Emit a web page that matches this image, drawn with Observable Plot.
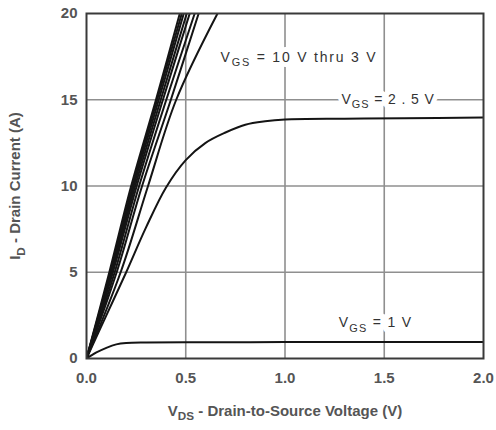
<!DOCTYPE html>
<html><head><meta charset="utf-8">
<script src="https://cdn.jsdelivr.net/npm/d3@7"></script>
<script src="https://cdn.jsdelivr.net/npm/@observablehq/plot@0.6"></script>
<style>body{margin:0;background:#fff} svg{display:block}</style>
</head><body><div id="chart"></div>
<script>
// Linear-region curves: VDS read at each drain current step
const vgsLinear = ["10 V", "8 V", "6 V", "5 V", "4.5 V", "4 V", "3.5 V", "3 V"];
const idSteps = [0, 5, 10, 15, 20];
const vdsAtId = [
  [0, 0.115, 0.225, 0.350, 0.470],
  [0, 0.120, 0.232, 0.356, 0.480],
  [0, 0.124, 0.238, 0.364, 0.490],
  [0, 0.128, 0.245, 0.374, 0.505],
  [0, 0.133, 0.253, 0.385, 0.520],
  [0, 0.142, 0.265, 0.402, 0.545],
  [0, 0.152, 0.280, 0.425, 0.565],
  [0, 0.172, 0.310, 0.452, 0.660]
];
// VGS = 2.5 V
const vds25 = [0, 0.1, 0.2, 0.3, 0.4, 0.5, 0.6, 0.7, 0.8, 0.9, 1.0, 1.3, 1.6, 2.0];
const id25  = [0, 2.5, 5.0, 7.6, 9.9, 11.5, 12.5, 13.1, 13.55, 13.75, 13.85, 13.9, 13.93, 13.97];
// VGS = 1 V
const vds1 = [0, 0.05, 0.1, 0.15, 0.2, 0.3, 0.5, 1.0, 1.5, 2.0];
const id1  = [0, 0.35, 0.62, 0.82, 0.9, 0.93, 0.94, 0.95, 0.95, 0.96];

const xTicks = [0, 0.5, 1.0, 1.5, 2.0];
const yTicks = [0, 5, 10, 15, 20];
const labelTexts = ["V_{GS} = 10 V thru 3 V", "V_{GS} = 2 . 5 V", "V_{GS} = 1 V"];
const xTitle = "V_{DS} - Drain-to-Source Voltage (V)";
const yTitle = "I_{D} - Drain Current (A)";

const rows = [];
vgsLinear.forEach((g, k) => idSteps.forEach((id, j) => rows.push({vgs: g, vds: vdsAtId[k][j], id})));
vds25.forEach((v, i) => rows.push({vgs: "2.5 V", vds: v, id: id25[i]}));
vds1.forEach((v, i) => rows.push({vgs: "1 V", vds: v, id: id1[i]}));

const font = "Liberation Sans, Arial, Helvetica, sans-serif";
const spacing = {[labelTexts[0]]: "1.8px", [labelTexts[1]]: "0.9px", [labelTexts[2]]: "1.3px"};
const labelPos = [
  {x: 0.675, y: 17.45, textAnchor: "start"},
  {x: 1.52, y: 15, textAnchor: "middle"},
  {x: 1.456, y: 2.06, textAnchor: "middle"}
];
const labelMarks = [];
labelTexts.forEach((t, i) => {
  labelMarks.push(Plot.text([t], {...labelPos[i], text: d => d, fontSize: 14, fill: "white", stroke: "white", strokeWidth: i === 2 ? 12 : 10}));
});
labelTexts.forEach((t, i) => {
  labelMarks.push(Plot.text([t], {...labelPos[i], text: d => d, fontSize: 14, fill: "#333"}));
});

const chart = Plot.plot({
  width: 496, height: 430,
  marginLeft: 86, marginRight: 13, marginTop: 13, marginBottom: 72,
  style: {fontFamily: font, fontSize: "13px", color: "#444", background: "#fff"},
  x: {domain: [0, 2], label: null},
  y: {domain: [0, 20], label: null},
  marks: [
    Plot.gridX(xTicks.slice(1, -1), {stroke: "#8f8f8f", strokeOpacity: 1, strokeWidth: 1.6}),
    Plot.gridY(yTicks.slice(1, -1), {stroke: "#8f8f8f", strokeOpacity: 1, strokeWidth: 1.6}),
    Plot.axisX({ticks: xTicks, tickFormat: d3.format(".1f"), tickSize: 0, tickPadding: 14, label: null, fontSize: 15, fontWeight: "bold", fill: "#555"}),
    Plot.axisY({ticks: yTicks, tickSize: 0, tickPadding: 9, label: null, fontSize: 15, fontWeight: "bold", fill: "#555"}),
    ...labelMarks,
    Plot.line(rows, {x: "vds", y: "id", z: "vgs", stroke: "#141414", strokeWidth: 2, curve: "catmull-rom", clip: true}),
    Plot.frame({stroke: "#3a3a3a", strokeWidth: 2}),
    Plot.text([xTitle], {frameAnchor: "bottom", text: d => d, dy: 57, fontSize: 15, fontWeight: "bold", fill: "#555"}),
    Plot.text([yTitle], {frameAnchor: "left", textAnchor: "middle", text: d => d, dx: -71, rotate: -90, fontSize: 15, fontWeight: "bold", fill: "#555"})
  ]
});
document.getElementById("chart").appendChild(chart);

// letter spacing and _{...} subscripts
chart.querySelectorAll("text").forEach(t => {
  const s = t.textContent;
  if (spacing[s]) t.style.letterSpacing = spacing[s];
  if (!s.includes("_{")) return;
  const fs = parseFloat(getComputedStyle(t).fontSize) || 13;
  t.textContent = "";
  let shifted = false;
  s.split(/(_\{[^}]*\})/).forEach(p => {
    if (!p) return;
    const ts = document.createElementNS("http://www.w3.org/2000/svg", "tspan");
    if (p.startsWith("_{")) {
      ts.textContent = p.slice(2, -1);
      ts.setAttribute("font-size", fs * 0.78);
      ts.setAttribute("dy", fs * 0.3);
      shifted = true;
    } else {
      ts.textContent = p;
      if (shifted) { ts.setAttribute("dy", -fs * 0.3); shifted = false; }
    }
    t.appendChild(ts);
  });
});
</script></body></html>
